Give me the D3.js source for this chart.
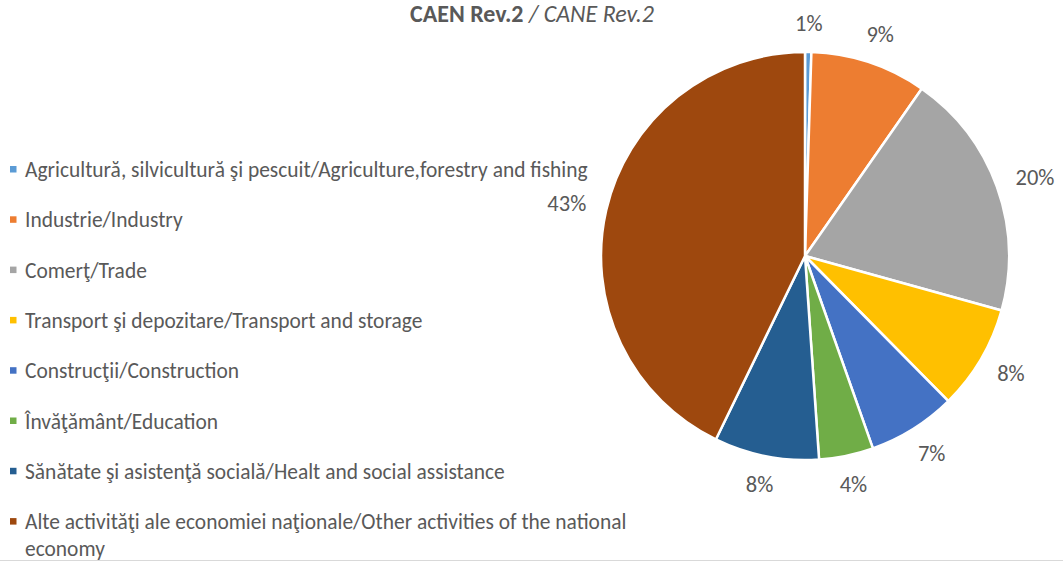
<!DOCTYPE html>
<html>
<head>
<meta charset="utf-8">
<script src="https://cdn.jsdelivr.net/npm/d3@7"></script>
<style>
  body { margin: 0; background: #fff; }
  svg { display: block; font-family: Carlito, Lato, "Liberation Sans", sans-serif; }
</style>
</head>
<body>
<svg width="1063" height="562"></svg>
<script>
// Data
const categories = [
  "Agricultură, silvicultură şi pescuit/Agriculture,forestry and fishing",
  "Industrie/Industry",
  "Comerţ/Trade",
  "Transport şi depozitare/Transport and storage",
  "Construcţii/Construction",
  "Învăţământ/Education",
  "Sănătate şi asistenţă socială/Healt and social assistance",
  "Alte activităţi ale economiei naţionale/Other activities of the national economy"
];
const values = [0.5, 9.2, 19.6, 8.3, 7.0, 4.3, 8.3, 42.8];
const labels = ["1%", "9%", "20%", "8%", "7%", "4%", "8%", "43%"];
const colors = ["#5B9BD5", "#ED7D31", "#A5A5A5", "#FFC000", "#4472C4", "#70AD47", "#255E91", "#9E480E"];

const svg = d3.select("svg"),
  width = +svg.attr("width"),
  height = +svg.attr("height");

const textColor = "#595959";

// Title
const title = svg.append("text")
  .attr("x", 532)
  .attr("y", 22)
  .attr("text-anchor", "middle")
  .style("font-size", "18px")
  .style("fill", textColor);
title.append("tspan").style("font-weight", "bold").text("CAEN Rev.2");
title.append("tspan").style("font-style", "italic").text(" / CANE Rev.2");
// scale title to the reference width
const titleW = title.node().getComputedTextLength();
title.style("font-size", (18 * 244 / titleW) + "px");

// Pie
const cx = 805, cy = 256, radius = 204;
const pie = d3.pie().sort(null).value(d => d);
const arc = d3.arc().innerRadius(0).outerRadius(radius);
const labelGap = 21;
const labelArc = d3.arc().innerRadius(radius + labelGap).outerRadius(radius + labelGap);

const g = svg.append("g").attr("transform", `translate(${cx},${cy})`);
const arcs = pie(values);

g.selectAll("path")
  .data(arcs)
  .join("path")
  .attr("d", arc)
  .attr("fill", (d, i) => colors[i])
  .attr("stroke", "#fff")
  .attr("stroke-width", 2.5)
  .attr("stroke-linejoin", "round");

// outside-end labels: the label box sits just outside the arc, pushed out by half its size
g.selectAll("text.lbl")
  .data(arcs)
  .join("text")
  .attr("class", "lbl")
  .attr("text-anchor", "middle")
  .attr("dominant-baseline", "central")
  .style("font-size", "22.5px")
  .style("fill", textColor)
  .text((d, i) => labels[i])
  .attr("transform", function (d) {
    const [px, py] = labelArc.centroid(d);
    const a = (d.startAngle + d.endAngle) / 2;
    const w = this.getComputedTextLength(), h = 16;
    return `translate(${px + Math.sin(a) * w / 2},${py - Math.cos(a) * h / 2})`;
  });

// Legend
const legendX = 10, legendY = 170, legendStep = 50.3;
const legend = svg.append("g").attr("class", "legend");

// fit the font size so the longest line matches the reference width
const probe = legend.append("text").style("font-size", "17px").text(categories[0]);
const probeW = probe.node().getComputedTextLength();
probe.remove();
const legendFont = 17 * 563 / probeW;

const items = legend.selectAll(".legend-item")
  .data(categories)
  .join("g")
  .attr("class", "legend-item")
  .attr("transform", (d, i) => `translate(${legendX}, ${legendY + i * legendStep})`);

items.append("rect")
  .attr("x", 0)
  .attr("y", -4)
  .attr("width", 6.5)
  .attr("height", 6.5)
  .attr("fill", (d, i) => colors[i]);

items.append("text")
  .attr("x", 15)
  .attr("dominant-baseline", "central")
  .style("font-size", legendFont + "px")
  .style("fill", textColor)
  .each(function (d, i) {
    const t = d3.select(this);
    if (i === categories.length - 1) {
      const cut = d.lastIndexOf(" economy");
      t.append("tspan").attr("x", 15).text(d.slice(0, cut));
      t.append("tspan").attr("x", 15).attr("dy", 27).text("economy");
    } else {
      t.text(d);
    }
  });

// Chart frame bottom edge
svg.append("line")
  .attr("x1", 0).attr("x2", width)
  .attr("y1", height - 1.5).attr("y2", height - 1.5)
  .attr("stroke", "#d9d9d9")
  .attr("stroke-width", 1);
</script>
</body>
</html>
